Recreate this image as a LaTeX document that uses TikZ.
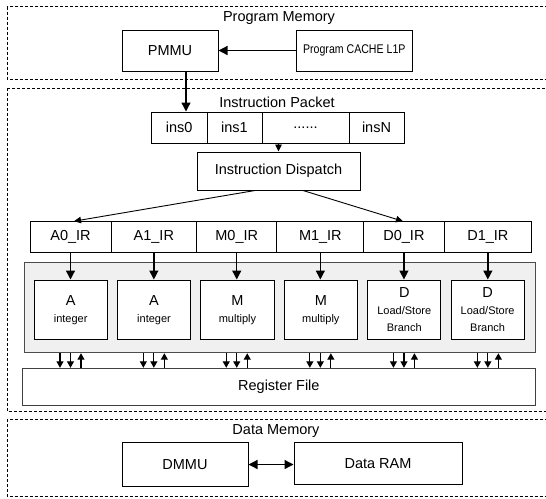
\documentclass[tikz,border=0pt]{standalone}
\usepackage{fontspec}
\setmainfont{Liberation Sans}
\newfontfamily\narrowf[FakeStretch=0.84]{Liberation Sans}
\usetikzlibrary{arrows.meta,calc}
\newcommand\mainf{\fontsize{14.5}{17}\selectfont}
\newcommand\smf{\fontsize{11}{13.4}\selectfont}
\newcommand\pktdots{......}
\tikzset{
  box/.style 2 args={draw,line width=1pt,minimum width=#1,minimum height=#2,inner sep=0pt,font=\mainf},
  region/.style={draw,line width=0.9pt,dash pattern=on 3pt off 2pt},
  lbl/.style={font=\mainf,inner sep=0pt},
  arr/.style={line width=1.3pt,-{Triangle[length=9pt,width=9pt]}},
  dblarr/.style={line width=1.3pt,{Triangle[length=9pt,width=9pt]}-{Triangle[length=9pt,width=9pt]}},
  thinarr/.style={line width=0.9pt,-{Triangle[length=7pt,width=6.5pt]}},
  sarr/.style={line width=1.2pt,-{Triangle[length=6.5pt,width=7pt]}}
}
\begin{document}
\begin{tikzpicture}[x=1pt,y=-1pt]
\useasboundingbox (0,0) rectangle (546,498);
\draw[region] (7.3,6.5) rectangle (560,79.3);
\node[lbl] (pmlbl) at (279,18) {Program Memory};
\node[box={96pt}{41pt}] (pmmu) at (170,50.5) {PMMU};
\node[box={116.6pt}{41pt},font=\narrowf\fontsize{12.6}{15}\selectfont] (cache) at (354.3,50.5) {Program CACHE L1P};
\draw[arr] (cache.west) -- (pmmu.east);
\draw[region] (7.3,88.3) rectangle (560,411.7);
\node[lbl] (iplbl) at (277,102) {Instruction Packet};
\foreach \nm/\l/\r/\txt in {ins0/151.5/207/ins0, ins1/207/262/ins1, insd/262/349/\pktdots, insN/349/404/insN}
  \node[box={\r-\l}{31pt}] (\nm) at ({(\l+\r)/2},127.5) {\txt};
\draw[arr] ([xshift=16pt]pmmu.south) -- ([xshift=16pt]pmmu.south |- ins0.north);
\node[box={163pt}{38pt}] (disp) at (278.5,171) {Instruction Dispatch};
\draw[thinarr] (disp.north |- insd.south) -- (disp.north);
\foreach \nm/\l/\r/\txt in {a0/30/111/A0, a1/111/196.7/A1, m0/196.7/276.8/M0, m1/276.8/363.9/M1, d0/363.9/444/D0, d1/444/531.7/D1}
  \node[box={\r-\l}{31pt}] (\nm) at ({(\l+\r)/2},237.2) {\txt\_IR};
\draw[thinarr] ([xshift=-23.5pt]disp.south) -- ([xshift=3.5pt]a0.north);
\draw[thinarr] ([xshift=24.5pt]disp.south) -- ([xshift=-1pt]d0.north);
\node[draw=black!70,fill=black!6,line width=1pt,minimum width=511.7pt,minimum height=90.4pt,inner sep=0pt] (fu) at (279.85,307.5) {};
\node[box={512.3pt}{36.7pt},draw=black!75] (reg) at (278.85,386.65) {Register File};
\foreach \i/\nm/\ltr/\sub in {0/a0/A/integer, 1/a1/A/integer, 2/m0/M/multiply, 3/m1/M/multiply, 4/d0/D/{Load/Store\\\smf Branch}, 5/d1/D/{Load/Store\\\smf Branch}}{
  \node[box={73.3pt}{59.3pt},fill=white,align=center] (u\nm) at (70.65+83.4*\i,309.65) {\ltr\\\smf \sub};
  \draw[arr] (\nm.south) -- (\nm.south |- u\nm.north);
  \draw[sarr] ($(\nm.south |- fu.south)+(-10.5,0)$) -- ($(\nm.south |- reg.north)+(-10.5,0)$);
  \draw[sarr] (\nm.south |- fu.south) -- (\nm.south |- reg.north);
  \draw[sarr] ($(\nm.south |- reg.north)+(10.5,0)$) -- ($(\nm.south |- fu.south)+(10.5,0)$);
}
\draw[region] (7.3,419) rectangle (560,496.7);
\node[lbl] (dmlbl) at (276,430.7) {Data Memory};
\node[box={126pt}{44.4pt}] (dmmu) at (185,464.5) {DMMU};
\node[box={168pt}{41.7pt}] (ram) at (378,463.2) {Data RAM};
\draw[dblarr] (dmmu.east) -- (dmmu.east -| ram.west);
\end{tikzpicture}
\end{document}
